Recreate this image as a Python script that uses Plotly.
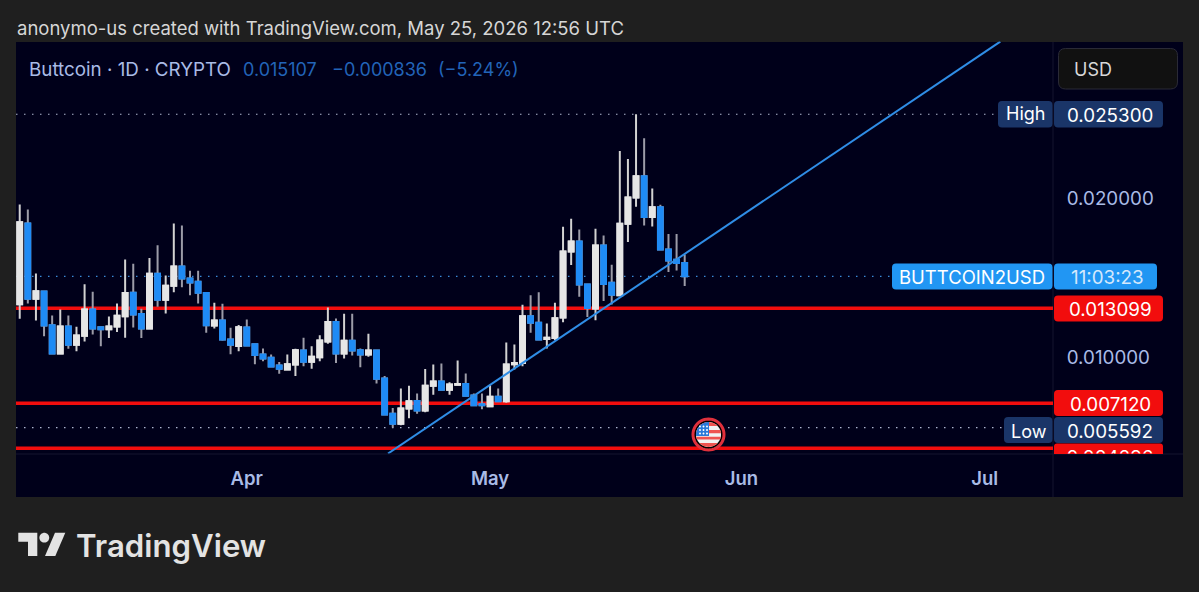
import numpy as np
import pandas as pd
import plotly.graph_objects as go

# Daily Buttcoin / USD candles
start_date = "2026-03-04"
opens = [0.01335,0.01843,0.01369,0.01415,0.01203,0.01025,0.01195,0.01080,0.01136,0.01302,0.01191,0.01178,0.01195,0.01260,0.01407,
         0.01273,0.01182,0.01526,0.01363,0.01451,0.01572,0.01497,0.01476,0.01405,0.01201,0.01233,0.01113,0.01073,0.01189,0.01084,
         0.01019,0.00998,0.00950,0.00925,0.00956,0.01044,0.00973,0.01002,0.01101,0.01224,0.01025,0.01105,0.01046,0.01019,0.01044,
         0.00868,0.00646,0.00583,0.00679,0.00727,0.00667,0.00822,0.00849,0.00797,0.00828,0.00834,0.00761,0.00706,0.00694,0.00753,
         0.00725,0.00958,0.00966,0.01260,0.01218,0.01117,0.01122,0.01252,0.01667,0.01730,0.01459,0.01308,0.01704,0.01470,0.01392,
         0.01841,0.02006,0.02140,0.01883,0.01945,0.01679,0.01614,0.015943]
highs = [0.01962,0.01931,0.01528,0.01417,0.01264,0.01302,0.01264,0.01193,0.01461,0.01413,0.01193,0.01258,0.01340,0.01616,0.01589,
         0.01306,0.01625,0.01706,0.01516,0.01843,0.01830,0.01545,0.01545,0.01407,0.01344,0.01338,0.01187,0.01205,0.01239,0.01086,
         0.01057,0.01019,0.00971,0.01019,0.01055,0.01124,0.01071,0.01140,0.01314,0.01245,0.01275,0.01275,0.01057,0.01149,0.01048,
         0.00883,0.00683,0.00805,0.00822,0.00774,0.00927,0.00956,0.00962,0.00845,0.00981,0.00899,0.00774,0.00774,0.00826,0.00805,
         0.01094,0.01082,0.01331,0.01392,0.01411,0.01214,0.01344,0.01822,0.01872,0.01805,0.01460,0.01809,0.01767,0.01583,0.02298,
         0.02249,0.02530,0.02379,0.02063,0.01960,0.01776,0.01776,0.01648]
lows = [0.01243,0.01340,0.01233,0.01134,0.01025,0.01025,0.01055,0.01040,0.01101,0.01145,0.01071,0.01122,0.01161,0.01124,0.01189,
        0.01122,0.01182,0.01319,0.01277,0.01411,0.01442,0.01392,0.01340,0.01155,0.01182,0.01105,0.01021,0.01040,0.01075,0.00958,
        0.00977,0.00939,0.00897,0.00918,0.00883,0.00945,0.00929,0.00977,0.01086,0.00966,0.00994,0.01013,0.00939,0.01004,0.00836,
        0.00640,0.005592,0.00574,0.00618,0.00646,0.00656,0.00765,0.00795,0.00765,0.00827,0.00757,0.00698,0.00675,0.00692,0.00723,
        0.00715,0.00925,0.00945,0.01155,0.01107,0.01057,0.01109,0.01222,0.01581,0.01382,0.01254,0.01235,0.01356,0.01333,0.01392,
        0.01727,0.01948,0.01830,0.01824,0.01677,0.01537,0.01547,0.01449]
closes = [0.01851,0.01369,0.01417,0.01201,0.01025,0.01195,0.01080,0.01138,0.01302,0.01182,0.01178,0.01195,0.01262,0.01405,0.01270,
          0.01182,0.01526,0.01363,0.01451,0.01572,0.01497,0.01472,0.01407,0.01203,0.01233,0.01113,0.01080,0.01191,0.01075,0.01015,
          0.00994,0.00943,0.00929,0.00958,0.01046,0.00973,0.01004,0.01107,0.01224,0.01025,0.01105,0.01044,0.01019,0.01044,0.00866,
          0.00642,0.00583,0.00679,0.00725,0.00667,0.00822,0.00849,0.00797,0.00830,0.00834,0.00759,0.00700,0.00700,0.00753,0.00725,
          0.00956,0.00966,0.01260,0.01218,0.01113,0.01124,0.01247,0.01667,0.01730,0.01459,0.01312,0.01704,0.01463,0.01394,0.01841,
          0.02006,0.02140,0.01883,0.01945,0.01679,0.01610,0.015943,0.015107]

level_prices = [0.013099, 0.007120, 0.004296]
high_price = 0.025300
low_price = 0.005592
last_price = 0.015107
trend_dates = ["2026-04-18 10:00", "2026-07-02 22:00"]
trend_prices = [0.00396, 0.02987]
month_ticks = ["2026-04-01", "2026-05-01", "2026-06-01", "2026-07-01"]
month_labels = ["Apr", "May", "Jun", "Jul"]
price_ticks = [0.01, 0.02]

W, H = 1199, 592
FONT = "Inter"
PAGE = "#1f1f1f"
PANEL = "#00001a"
BLUE = "#1f8bf5"
WHITE = "#e6e6e6"
RED = "#f20d0d"
NAVY = "#1a3568"
PERIWINKLE = "#a9bbe6"
HEADER_BLUE = "#2264b8"
TAG_SIZE = 18.8

dates = pd.date_range(start_date, periods=len(opens), freq="D")
body_high = np.maximum(opens, closes)
body_low = np.minimum(opens, closes)


def px(x):
    return x / W


def py(y):
    return 1 - y / H


def rrect(x0, y0, x1, y1, r=4, bottom=True):
    """Rounded rectangle path in paper coordinates."""
    p = (lambda x, y: f"{px(x):.5f},{py(y):.5f}")
    rb = r if bottom else 0
    return (f"M{p(x0 + r, y0)} L{p(x1 - r, y0)} Q{p(x1, y0)} {p(x1, y0 + r)} "
            f"L{p(x1, y1 - rb)} Q{p(x1, y1)} {p(x1 - rb, y1)} "
            f"L{p(x0 + rb, y1)} Q{p(x0, y1)} {p(x0, y1 - rb)} "
            f"L{p(x0, y0 + r)} Q{p(x0, y0)} {p(x0 + r, y0)} Z")


def paper_shape(path, fill, line=None, width=0, layer="above"):
    return dict(type="path", path=path, xref="paper", yref="paper", fillcolor=fill,
                line=dict(color=line or fill, width=width), layer=layer)


def poly(points):
    return "M" + " L".join(f"{px(x):.5f},{py(y):.5f}" for x, y in points) + " Z"


def disc(cx, cy, r):
    a = np.linspace(0, 2 * np.pi, 49)[:-1]
    return poly(list(zip(cx + r * np.cos(a), cy + r * np.sin(a))))


def band(cx, cy, r, y0, y1):
    """Horizontal slice of a disc between two offsets from its centre."""
    ys = np.linspace(y0, y1, 9)
    xs = np.sqrt(np.maximum(r * r - ys * ys, 0))
    pts = [(cx - a, cy + b) for a, b in zip(xs, ys)] + [(cx + a, cy + b) for a, b in zip(xs[::-1], ys[::-1])]
    return poly(pts)


def text(x, y, s, color, size=TAG_SIZE, anchor="left", weight=400):
    return dict(x=px(x), y=py(y), xref="paper", yref="paper", text=s, showarrow=False,
                xanchor=anchor, yanchor="middle", borderpad=0,
                font=dict(family=FONT, size=size, color=color, weight=weight))


fig = go.Figure()

# Wicks in their own trace so that the blue bodies can keep grey wicks
fig.add_trace(go.Candlestick(
    x=dates, open=opens, high=highs, low=lows, close=closes, whiskerwidth=0,
    increasing=dict(line=dict(color="#d2d2d2", width=2), fillcolor="#d2d2d2"),
    decreasing=dict(line=dict(color="#9c9ca8", width=2), fillcolor="#9c9ca8"),
    hoverinfo="skip", showlegend=False))
# Bodies
fig.add_trace(go.Candlestick(
    x=dates, open=opens, high=body_high, low=body_low, close=closes, whiskerwidth=0,
    increasing=dict(line=dict(color=WHITE, width=2), fillcolor=WHITE),
    decreasing=dict(line=dict(color=BLUE, width=2), fillcolor=BLUE),
    hoverinfo="skip", showlegend=False))
# Ascending trend line
fig.add_trace(go.Scatter(x=trend_dates, y=trend_prices, mode="lines",
                         line=dict(color="#2f8de6", width=2), hoverinfo="skip", showlegend=False))
# Lowest tag is pushed under the time axis, so its text is clipped by the pane
fig.add_trace(go.Scatter(x=[0.5], y=[0.003585], xaxis="x2", yaxis="y2", mode="text",
                         text=[f"{level_prices[2]:.6f}"], textposition="middle center", cliponaxis=True,
                         textfont=dict(family=FONT, size=TAG_SIZE, color="white"),
                         hoverinfo="skip", showlegend=False))

shapes = [
    # panel and scale separators
    dict(type="rect", xref="paper", yref="paper", x0=px(16), x1=px(1183), y0=py(497), y1=py(42),
         fillcolor=PANEL, line=dict(width=0), layer="below"),
    dict(type="line", xref="paper", yref="paper", x0=px(1053), x1=px(1053), y0=py(497), y1=py(42),
         line=dict(color="#14142e", width=1), layer="below"),
    dict(type="line", xref="paper", yref="paper", x0=px(16), x1=px(1183), y0=py(454), y1=py(454),
         line=dict(color="#14142e", width=1), layer="below"),
]

# Price levels
for lv in level_prices:
    shapes.append(dict(type="line", xref="paper", yref="y", x0=px(16), x1=px(1053), y0=lv, y1=lv,
                       line=dict(color=RED, width=3.4), layer="below"))
# High, low and last-price guides
for price, end, colour in [(high_price, 998, "#aeb6d0"), (low_price, 1004, "#aeb6d0"), (last_price, 892, "#3a8ad8")]:
    shapes.append(dict(type="line", xref="paper", yref="y", x0=px(16), x1=px(end), y0=price, y1=price,
                       line=dict(color=colour, width=1.2, dash="1.5px,6.5px"), layer="below"))

# Clipped tag sits under the pane text
shapes.append(paper_shape(rrect(1054, 443.5, 1163, 454, r=3, bottom=False), RED, layer="below"))

# Price scale tags
for x0, y0, x1, y1, fill in [
    (998, 101, 1052.5, 127.5, NAVY), (1054, 101, 1163, 127.5, NAVY),
    (892, 263.5, 1052.5, 289.5, "#2196f3"), (1054, 263.5, 1157, 289.5, "#2196f3"),
    (1054, 295.5, 1163, 321.5, RED), (1054, 390, 1163, 416, RED),
    (1004, 417, 1052.5, 443, NAVY), (1054, 417, 1163, 443, NAVY),
]:
    shapes.append(paper_shape(rrect(x0, y0, x1, y1), fill))

# Currency button
shapes.append(paper_shape(rrect(1058.5, 48.5, 1177.5, 89, r=7), "#111111", line="#2a2a36", width=1))

# Event marker with its flag
fcx, fcy = 708.5, 434.5
shapes.append(paper_shape(disc(fcx, fcy, 15.5), "#000000", line="#e0303c", width=3))
shapes.append(paper_shape(disc(fcx, fcy, 12.5), "#f2f2f2"))
for y0, y1 in [(-12.5, -8.5), (-4.5, -1.2), (2.2, 5.0), (8.5, 12.5)]:
    shapes.append(paper_shape(band(fcx, fcy, 12.5, y0, y1), "#ef5350"))
canton = [(fcx + 12.5 * np.cos(a), fcy + 12.5 * np.sin(a)) for a in np.linspace(np.pi * 0.96, np.pi * 1.5, 10)]
canton += [(fcx, fcy - 12.5), (fcx + 0.5, fcy - 12.5), (fcx + 0.5, fcy + 1.5), (fcx - 12.4, fcy + 1.5)]
shapes.append(paper_shape(poly(canton), "#2979d8"))
for sx in (-8.5, -5, -1.5):
    for sy in (-8, -4.5, -1):
        shapes.append(paper_shape(disc(fcx + sx, fcy + sy, 0.95), "#ffffff"))

# TradingView mark
LOGO = "#e3e3e3"
shapes.append(paper_shape(poly([(18.3, 532.7), (37.3, 532.7), (37.3, 556), (28, 556), (28, 541.7), (18.3, 541.7)]), LOGO))
shapes.append(paper_shape(disc(44.3, 537.7, 4.9), LOGO))
shapes.append(paper_shape(poly([(55, 532.7), (65.3, 532.7), (55.3, 556), (45, 556)]), LOGO))

annotations = [
    text(16, 28, "anonymo-us created with TradingView.com, May 25, 2026 12:56 UTC", "#d6d6d6", size=18.5),
    text(28, 70, "Buttcoin · 1D · CRYPTO", PERIWINKLE, size=18.8),
    text(242, 70, "0.015107", HEADER_BLUE, size=18),
    text(331, 70, "−0.000836", HEADER_BLUE, size=18),
    text(437, 70, "(−5.24%)", HEADER_BLUE, size=18),
    text(1073, 69, "USD", "#d8d8d8", size=18),
    text(1025, 114, "High", "white", size=18, anchor="center"),
    text(1110, 115, f"{high_price:.6f}", "white", anchor="center"),
    text(972, 277, "BUTTCOIN2USD", "white", size=18.5, anchor="center"),
    text(1107, 277, "11:03:23", "#d4e8fc", anchor="center"),
    text(1110, 309, f"{level_prices[0]:.6f}", "white", anchor="center"),
    text(1110, 404, f"{level_prices[1]:.6f}", "white", anchor="center"),
    text(1029, 431, "Low", "white", size=18, anchor="center"),
    text(1110, 431, f"{low_price:.6f}", "white", anchor="center"),
    text(75, 546, "TradingView", LOGO, size=31.2, weight=600),
]

# Pane spans 41.5..453.5 from the top of the page; the time axis begins just below it
y_bottom, y_top = 453.5, 41.5
y_domain = [1 - y_bottom / H, 1 - y_top / H]
y_range = [0.003962, 0.029874]

fig.update_layout(
    width=W, height=H, margin=dict(l=0, r=0, t=0, b=0),
    paper_bgcolor=PAGE, plot_bgcolor="rgba(0,0,0,0)",
    boxmode="overlay", boxgap=0.15, boxgroupgap=0.3,
    shapes=shapes, annotations=annotations, showlegend=False,
    xaxis=dict(domain=[16 / W, 1053 / W], type="date",
               range=["2026-03-03 13:00", "2026-07-09 10:00"],
               rangeslider=dict(visible=False), showgrid=False, zeroline=False, showline=False,
               tickmode="array", tickvals=month_ticks, ticktext=month_labels,
               ticks="outside", ticklen=8, tickcolor="rgba(0,0,0,0)",
               tickfont=dict(family=FONT, size=18.5, color=PERIWINKLE, weight=600), anchor="y"),
    yaxis=dict(domain=y_domain, range=y_range, side="right", anchor="x", showgrid=False, zeroline=False,
               showline=False, tickmode="array", tickvals=price_ticks, tickformat=".6f",
               ticks="outside", ticklen=9, tickcolor="rgba(0,0,0,0)",
               tickfont=dict(family=FONT, size=TAG_SIZE, color=PERIWINKLE)),
    xaxis2=dict(domain=[1053 / W, 1167 / W], range=[0.0, 1.0], visible=False, anchor="y2"),
    yaxis2=dict(domain=y_domain, range=y_range, visible=False, anchor="x2"),
)

fig.write_html("out.html")
